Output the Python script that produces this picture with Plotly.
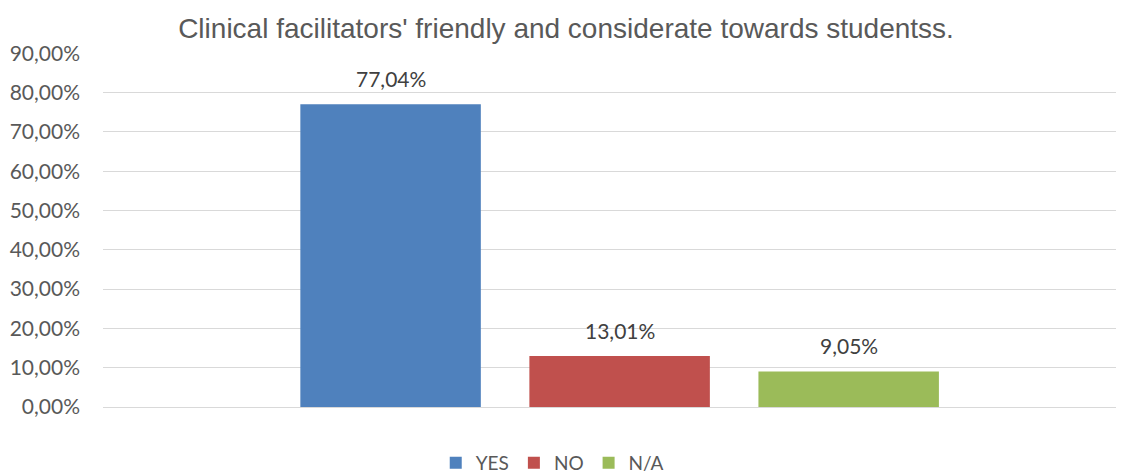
import plotly.graph_objects as go

title = "Clinical facilitators' friendly and considerate towards studentss."
category = [""]
series_names = ["YES", "NO", "N/A"]
series_values = [77.04, 13.01, 9.05]
series_colors = ["#4F81BD", "#C0504D", "#9BBB59"]
tick_vals = [0, 10, 20, 30, 40, 50, 60, 70, 80, 90]
tick_text = [f"{v},00%" for v in tick_vals]

FONT = "Lato, Carlito, sans-serif"
BARGAP = 0.327
BARGROUPGAP = 0.212

fig = go.Figure()
for name, val, col in zip(series_names, series_values, series_colors):
    fig.add_trace(go.Bar(
        x=category, y=[val], name=name, marker_color=col,
        marker_line_width=0,
    ))

# data labels placed over each grouped bar (offsets derived from group layout)
n = len(series_values)
slot = (1 - BARGAP) / n
for i, val in enumerate(series_values):
    xpos = (i - (n - 1) / 2) * slot
    fig.add_annotation(
        x=xpos, y=val, xref="x", yref="y",
        text=f"{val:.2f}%".replace(".", ","), showarrow=False,
        yanchor="bottom", yshift=11,
        font=dict(family=FONT, size=21, color="#404040"),
    )

# page has an 8px body margin: figure is sized/margined to compensate
fig.update_layout(
    width=1116, height=467,
    margin=dict(l=95, r=0, t=45, b=68, autoexpand=False),
    paper_bgcolor="white", plot_bgcolor="white",
    barmode="group", bargap=BARGAP, bargroupgap=BARGROUPGAP,
    title=dict(text=title, x=0.5, xanchor="center", y=0.957, yanchor="middle",
               font=dict(family="Liberation Sans, Arial, sans-serif", size=28, color="#595959")),
    showlegend=True,
    legend=dict(orientation="h", x=0.44, xanchor="center", y=-0.158, yanchor="middle",
                font=dict(family=FONT, size=19, color="#595959"),
                itemwidth=30, traceorder="normal"),
    yaxis=dict(range=[0, 90.1], tickvals=tick_vals, ticktext=tick_text,
               showgrid=True, gridcolor="#D9D9D9", gridwidth=1.3,
               zeroline=True, zerolinecolor="#D9D9D9", zerolinewidth=1.3,
               ticklabelstandoff=22,
               tickfont=dict(family=FONT, size=21, color="#595959")),
    xaxis=dict(showticklabels=False, showline=False, showgrid=False, range=[-0.506, 0.494]),
)

fig.write_html("out.html")
